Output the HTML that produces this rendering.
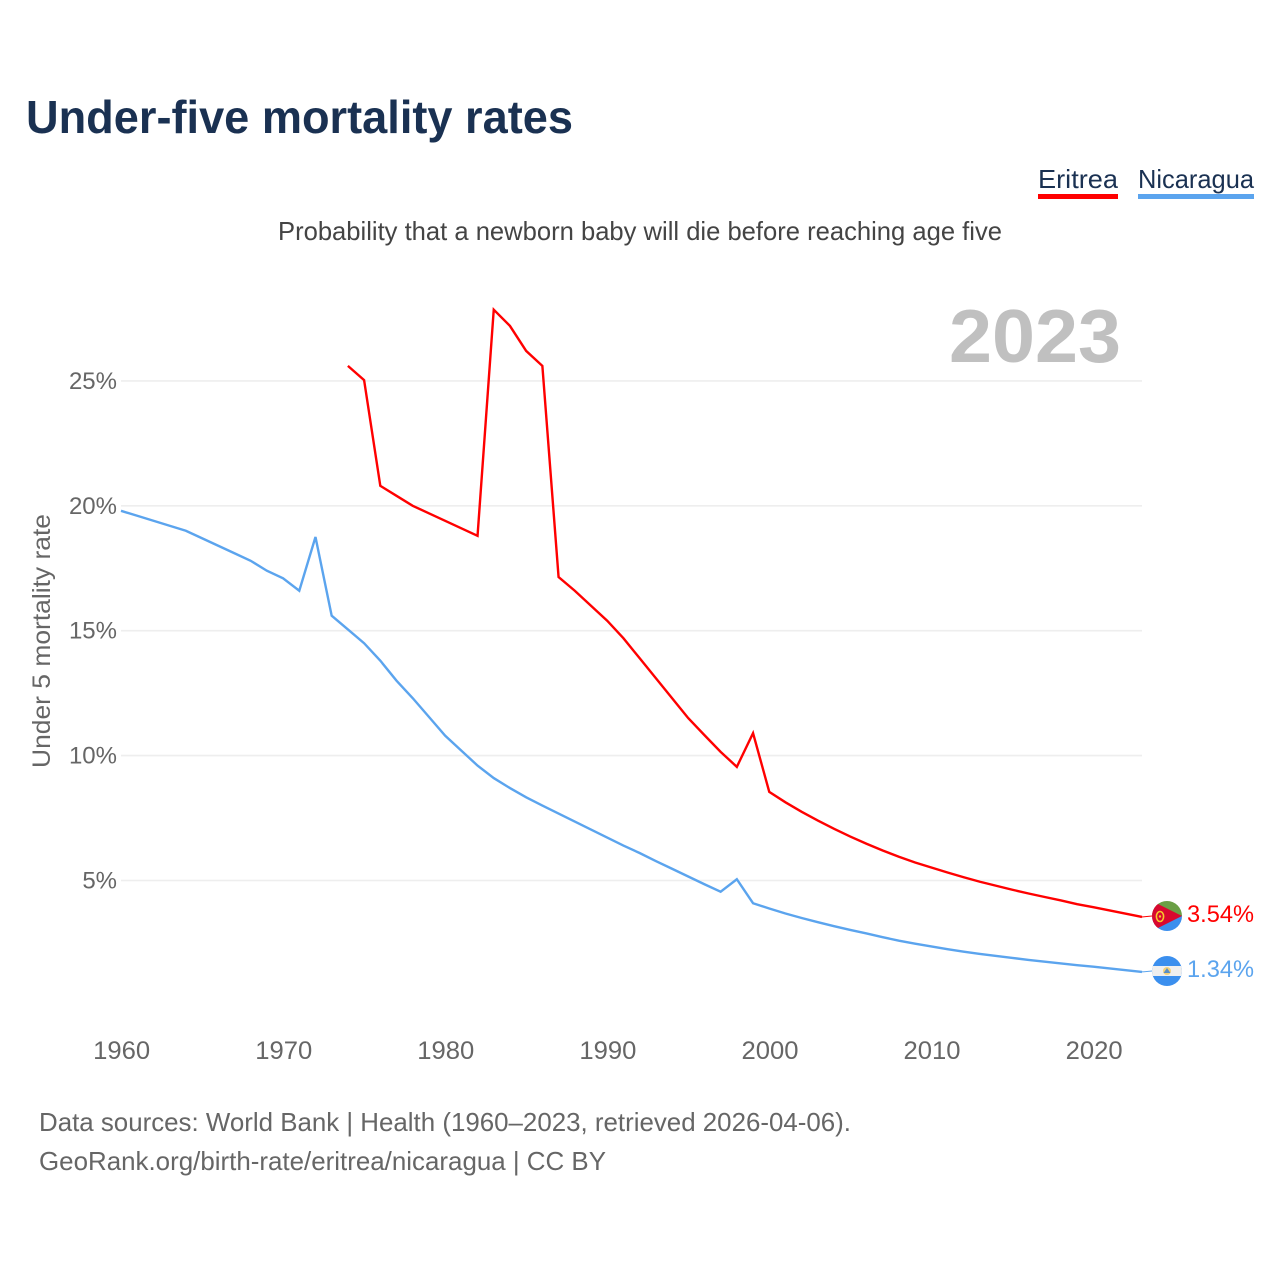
<!DOCTYPE html>
<html lang="en">
<head>
<meta charset="utf-8">
<title>Under-five mortality rates</title>
<style>
html,body{margin:0;padding:0;background:#fff}
svg{display:block}
text{font-family:"Liberation Sans",sans-serif}
</style>
</head>
<body>
<svg id="chart" xmlns="http://www.w3.org/2000/svg" width="1280" height="1280" viewBox="0 0 1280 1280">
  <rect width="1280" height="1280" fill="#fff"/>
  <text x="26" y="133" font-size="46" font-weight="700" fill="#1a3152" textLength="547" lengthAdjust="spacingAndGlyphs">Under-five mortality rates</text>
  <text x="1038" y="188" font-size="26" fill="#1a3152" textLength="80" lengthAdjust="spacingAndGlyphs">Eritrea</text>
  <rect x="1038" y="194" width="80" height="5" fill="#ff0000"/>
  <text x="1138" y="188" font-size="26" fill="#1a3152" textLength="116" lengthAdjust="spacingAndGlyphs">Nicaragua</text>
  <rect x="1138" y="194" width="116" height="5" fill="#5ba4ee"/>
  <text x="278" y="240" font-size="26" fill="#444" textLength="724" lengthAdjust="spacingAndGlyphs">Probability that a newborn baby will die before reaching age five</text>
  <text x="949" y="362" font-size="75" font-weight="700" fill="#c0c0c0" textLength="172" lengthAdjust="spacingAndGlyphs">2023</text>
  <text transform="translate(50,768) rotate(-90)" font-size="25" fill="#666" textLength="254" lengthAdjust="spacingAndGlyphs">Under 5 mortality rate</text>
  <g id="grid"></g>
  <g id="ylabels"></g>
  <g id="xlabels"></g>
  <g id="series"></g>

  <defs>
    <clipPath id="clip-er"><circle cx="1167" cy="916" r="15"/></clipPath>
    <clipPath id="clip-ni"><circle cx="1167" cy="971" r="15"/></clipPath>
  </defs>
  <g clip-path="url(#clip-er)">
    <rect x="1152" y="901" width="30" height="15" fill="#6a9f45"/>
    <rect x="1152" y="916" width="30" height="15" fill="#3b8fee"/>
    <polygon points="1152,901 1182,916 1152,931" fill="#d8082f"/>
    <ellipse cx="1160" cy="916.5" rx="3.6" ry="5" fill="none" stroke="#f6c92c" stroke-width="1.6"/>
    <circle cx="1160" cy="916.5" r="1.2" fill="#f6c92c"/>
  </g>
  <g clip-path="url(#clip-ni)">
    <rect x="1152" y="956" width="30" height="30" fill="#3b8fee"/>
    <rect x="1152" y="966" width="30" height="10" fill="#efefef"/>
    <circle cx="1167" cy="971" r="4" fill="#f4d27a"/>
    <polygon points="1167,968 1170.5,973 1163.5,973" fill="#5b8fc4"/>
  </g>
  <text id="label-er" x="1187" y="922" font-size="24.5" fill="#ff0000" textLength="67" lengthAdjust="spacingAndGlyphs"></text>
  <text id="label-ni" x="1187" y="977" font-size="24.5" fill="#5ba4ee" textLength="67" lengthAdjust="spacingAndGlyphs"></text>

  <text x="39" y="1131" font-size="26" fill="#666" textLength="812" lengthAdjust="spacingAndGlyphs">Data sources: World Bank | Health (1960–2023, retrieved 2026-04-06).</text>
  <text x="39" y="1170" font-size="26" fill="#666" textLength="567" lengthAdjust="spacingAndGlyphs">GeoRank.org/birth-rate/eritrea/nicaragua | CC BY</text>
</svg>
<script>
const xTicks = [1960, 1970, 1980, 1990, 2000, 2010, 2020];
const yTicks = [5, 10, 15, 20, 25];
const nicaraguaStart = 1960;
const eritreaStart = 1974;
const nicaraguaValues = [19.8,19.6,19.4,19.2,19.0,18.7,18.4,18.1,17.8,17.4,17.1,16.6,18.75,15.6,15.05,14.5,13.8,13.0,12.3,11.55,10.8,10.2,9.6,9.1,8.7,8.33,8.0,7.68,7.36,7.04,6.72,6.4,6.1,5.78,5.47,5.16,4.85,4.55,5.05,4.09,3.88,3.68,3.5,3.33,3.17,3.02,2.88,2.73,2.59,2.47,2.36,2.25,2.15,2.06,1.98,1.9,1.82,1.75,1.68,1.61,1.55,1.48,1.41,1.34];
const eritreaValues = [25.6,25.03,20.8,20.4,20.0,19.7,19.4,19.1,18.8,27.85,27.2,26.2,25.6,17.15,16.6,16.0,15.4,14.7,13.9,13.1,12.3,11.5,10.82,10.15,9.55,10.9,8.55,8.13,7.75,7.4,7.07,6.76,6.47,6.2,5.95,5.72,5.52,5.32,5.13,4.95,4.79,4.63,4.48,4.34,4.2,4.05,3.93,3.8,3.67,3.54];

const NS = 'http://www.w3.org/2000/svg';
const xScale = year => 121 + (year - 1960) * (1142 - 121) / 63;
const yScale = v => 1005.4 - v * 24.98;

function make(tag, attrs, parent, text) {
  const el = document.createElementNS(NS, tag);
  for (const k in attrs) el.setAttribute(k, attrs[k]);
  if (text !== undefined) el.textContent = text;
  parent.appendChild(el);
  return el;
}

const grid = document.getElementById('grid');
const ylabels = document.getElementById('ylabels');
const xlabels = document.getElementById('xlabels');
const series = document.getElementById('series');

yTicks.forEach(t => {
  const line = make('line', {x1: 121, x2: 1142, y1: yScale(t), y2: yScale(t), stroke: '#eeeeee', 'stroke-width': 1.6}, grid);
  
  
  const label = make('text', {x: 117, y: yScale(t) + 8, 'text-anchor': 'end', 'font-size': 24, fill: '#666'}, ylabels, t + '%');
  
  
});

xTicks.forEach(t => {
  const label = make('text', {x: xScale(t) + 0.7, y: 1059, 'text-anchor': 'middle', 'font-size': 25, fill: '#666', textLength: 57, lengthAdjust: 'spacingAndGlyphs'}, xlabels, String(t));
  
  
});

function pathFor(values, start) {
  return values.map((v, i) => (i ? 'L' : 'M') + xScale(start + i).toFixed(2) + ' ' + yScale(v).toFixed(2)).join('');
}

const lineEr = make('path', {d: pathFor(eritreaValues, eritreaStart), fill: 'none', stroke: '#ff0000', 'stroke-width': 2.4, 'stroke-linejoin': 'miter'}, series);



const lineNi = make('path', {d: pathFor(nicaraguaValues, nicaraguaStart), fill: 'none', stroke: '#5ba4ee', 'stroke-width': 2.4, 'stroke-linejoin': 'miter'}, series);



const lastEr = eritreaValues[eritreaValues.length - 1];
const lastNi = nicaraguaValues[nicaraguaValues.length - 1];

const leadEr = make('line', {x1: xScale(2023), x2: 1152, y1: yScale(lastEr), y2: 916, stroke: '#ff0000', 'stroke-width': 1}, series);



const leadNi = make('line', {x1: xScale(2023), x2: 1152, y1: yScale(lastNi), y2: 971, stroke: '#5ba4ee', 'stroke-width': 1}, series);



document.getElementById('label-er').textContent = lastEr.toFixed(2) + '%';
document.getElementById('label-ni').textContent = lastNi.toFixed(2) + '%';
</script>
</body>
</html>
